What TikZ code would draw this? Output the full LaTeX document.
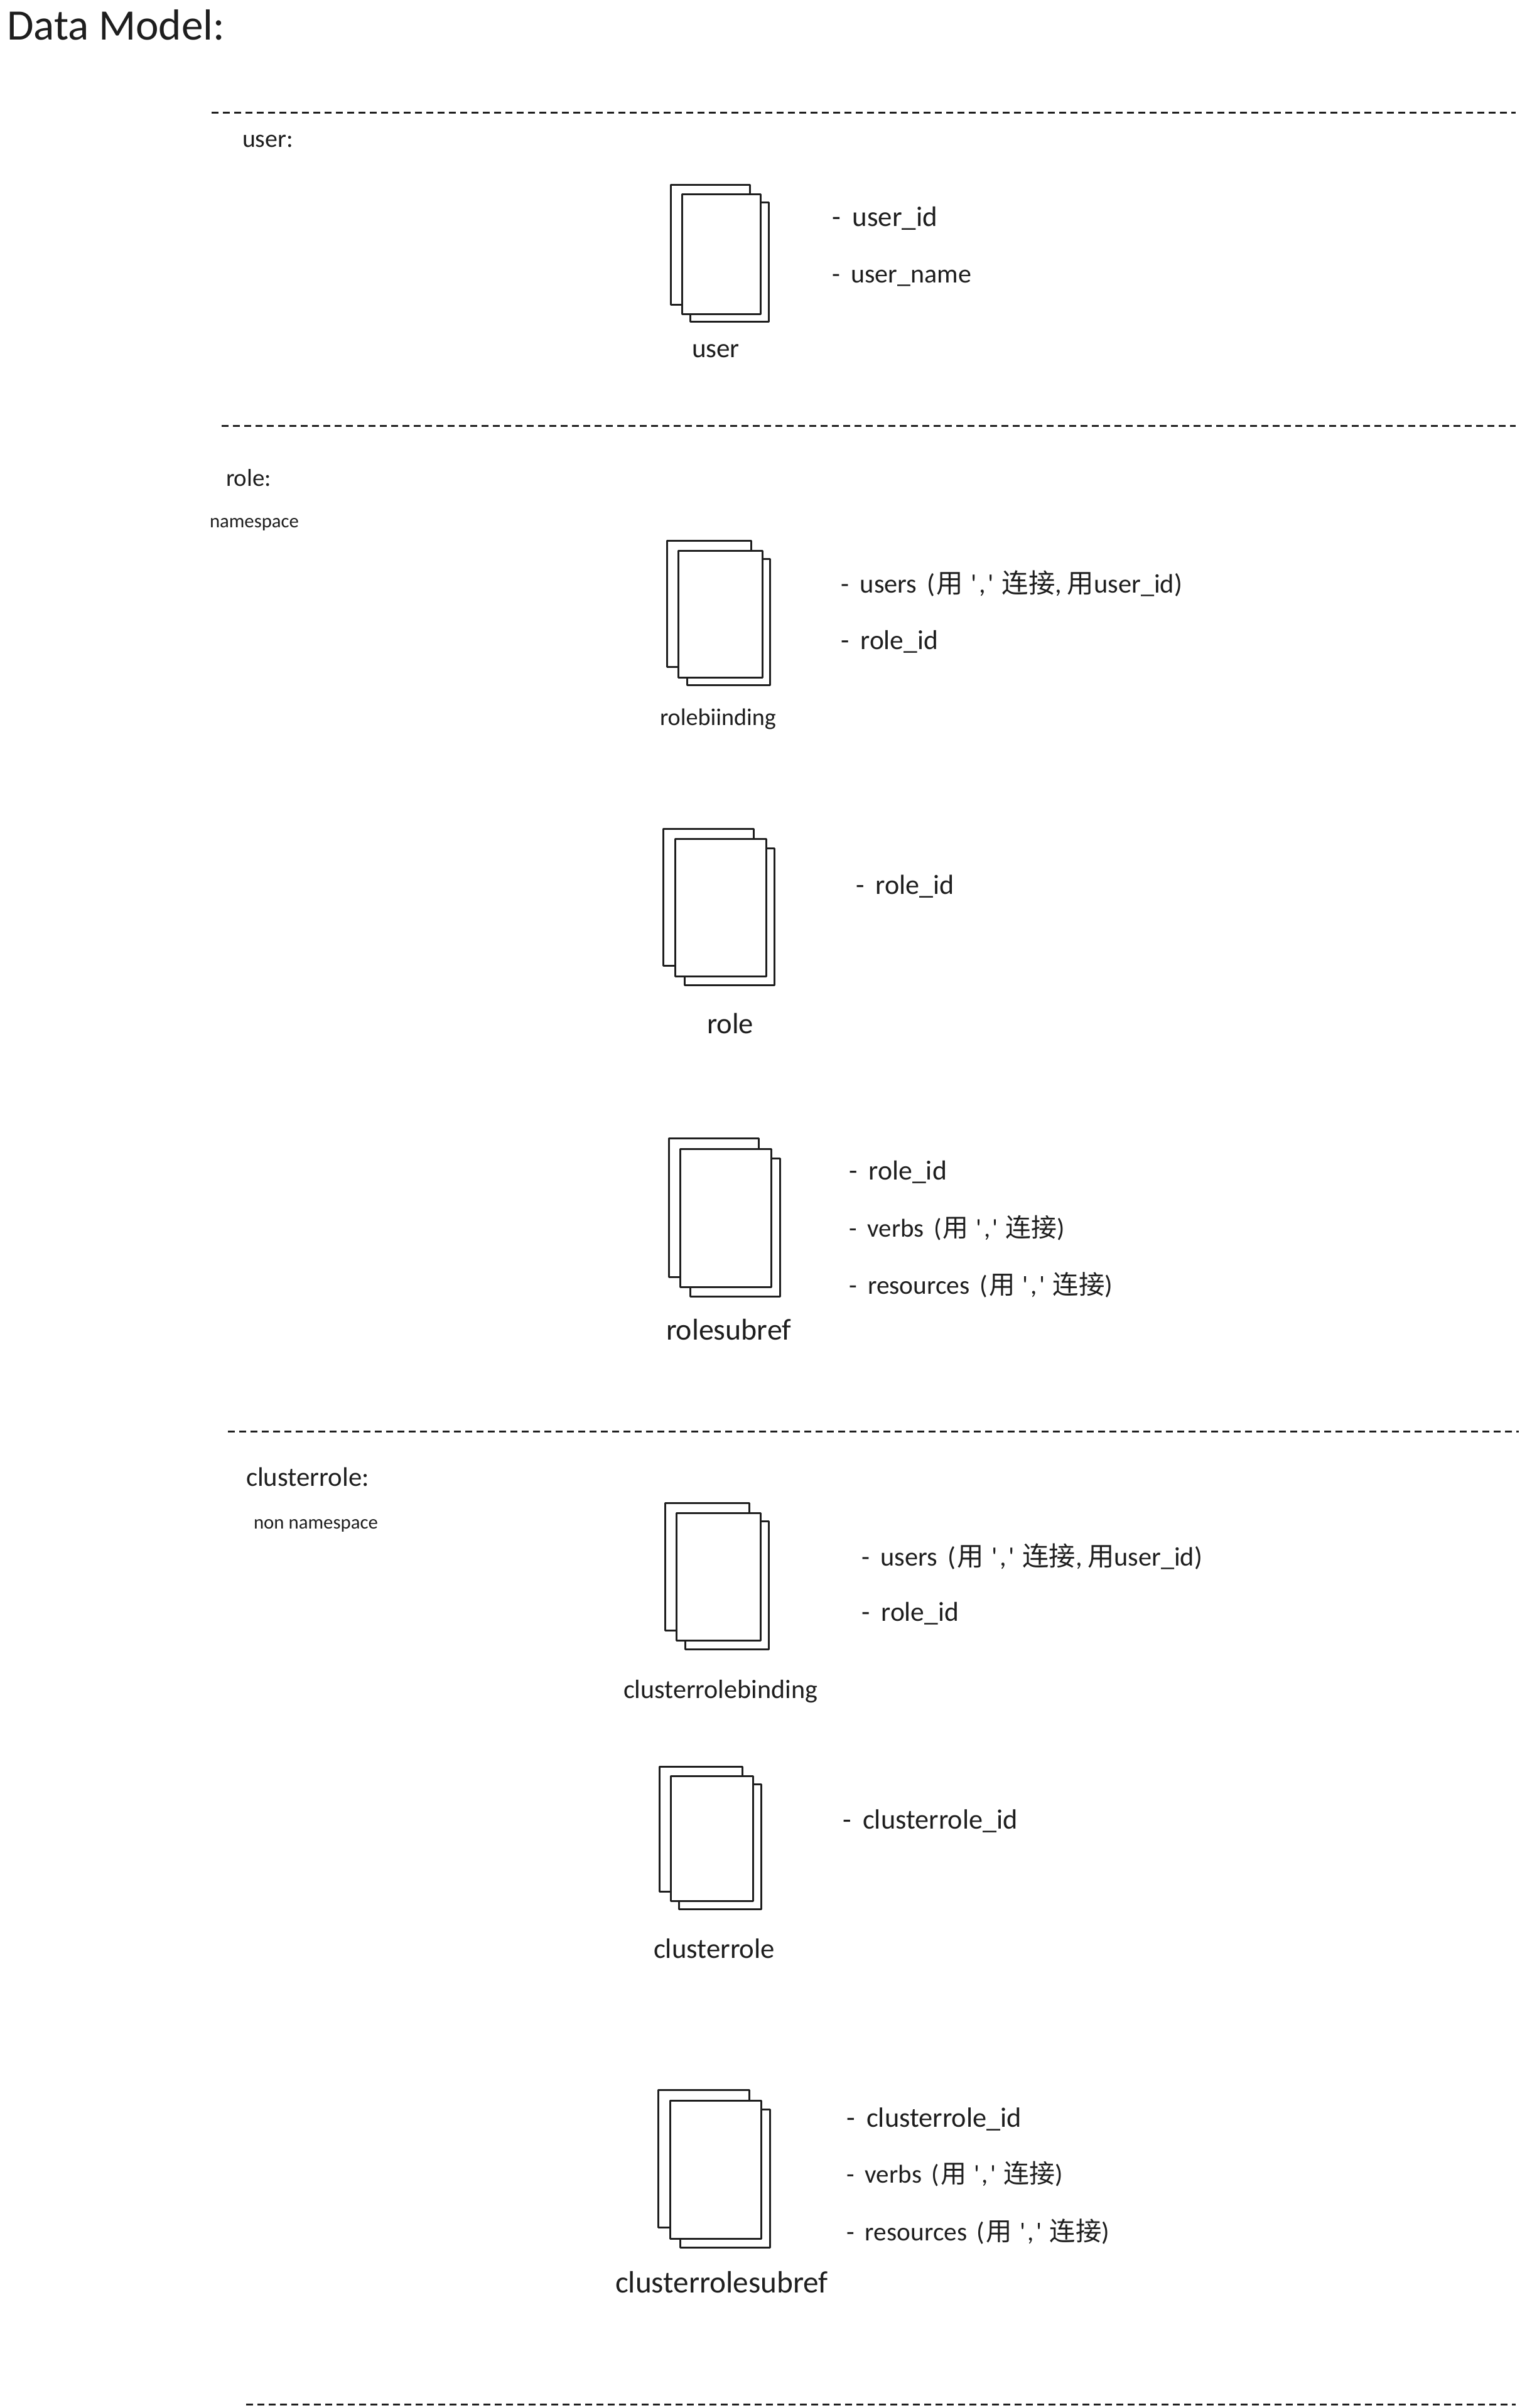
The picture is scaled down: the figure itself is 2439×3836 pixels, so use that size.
\documentclass[tikz,border=0pt]{standalone}
\usepackage{graphicx}
\usepackage{fontspec}
\setmainfont{Carlito}
\newfontfamily\cjk{Noto Sans CJK SC}
\newcommand{\cn}[1]{{\cjk #1}}
\newcommand{\qq}{\hspace{.3em}\textquotesingle\hspace{.08em},\hspace{.08em}\textquotesingle\hspace{.3em}}
\newcommand{\dsh}{-\hspace{.42em}}
\newcommand{\opn}{\hspace{.38em}(\hspace{.05em}}
\tikzset{
  txt/.style={anchor=base west,inner sep=0pt,outer sep=0pt,text=ink,font=\fontsize{40}{48}\selectfont},
  sheet/.style={draw=ink,fill=white,line width=3pt,line join=round},
  sep/.style={draw=ink,line width=3pt,dash pattern=on 10.5pt off 7.5pt}
}
\definecolor{ink}{HTML}{1E1E1E}
% name, x, width, baseline, text
\newcommand{\lbl}[5]{\node[txt] (#1) at (#2,#4) {\resizebox{#3pt}{!}{#5}};}
\newcommand{\stack}[3]{%
  \draw[sheet] #1; \draw[sheet] #2; \draw[sheet] #3;}
\begin{document}
\begin{tikzpicture}[x=1pt,y=-1pt]
\useasboundingbox (0,0) rectangle (2439,3836);
\fill[white] (0,0) rectangle (2439,3836);
% separators
\coordinate (a0) at (337,179); \coordinate (a1) at (2414,179);
\coordinate (b0) at (353,678); \coordinate (b1) at (2414,678);
\coordinate (c0) at (363,2280); \coordinate (c1) at (2419,2280);
\coordinate (d0) at (392,3830); \coordinate (d1) at (2414,3830);
\draw[sep] (a0) -- (a1);
\draw[sep] (b0) -- (b1);
\draw[sep] (c0) -- (c1);
\draw[sep] (d0) -- (d1);
% stacks
\stack{(1068,294) rectangle (1194,485)}{(1099,322) rectangle (1224,512)}{(1086,309) rectangle (1211,500)}
\stack{(1062,861) rectangle (1196,1062)}{(1094,890) rectangle (1226,1091)}{(1080,877) rectangle (1214,1079)}
\stack{(1056,1320) rectangle (1200,1538)}{(1090,1351) rectangle (1233,1569)}{(1075,1336) rectangle (1220,1555)}
\stack{(1065,1813) rectangle (1208,2034)}{(1099,1845) rectangle (1242,2065)}{(1083,1830) rectangle (1228,2050)}
\stack{(1059,2394) rectangle (1193,2597)}{(1091,2423) rectangle (1224,2627)}{(1077,2410) rectangle (1211,2613)}
\stack{(1050,2814) rectangle (1182,3013)}{(1081,2842) rectangle (1212,3041)}{(1068,2829) rectangle (1199,3028)}
\stack{(1048,3329) rectangle (1193,3548)}{(1083,3360) rectangle (1226,3580)}{(1067,3346) rectangle (1212,3566)}
% text
\lbl{title}{11}{347}{63}{Data Model:}
\lbl{huser}{386}{81}{234}{user:}
\lbl{uid}{1325}{168}{360}{\dsh user\_id}
\lbl{uname}{1325}{222}{450}{\dsh user\_name}
\lbl{user}{1102}{76}{569}{user}
\lbl{hrole}{360}{72}{774}{role:}
\lbl{ns}{334}{142}{840}{namespace}
\lbl{rbusers}{1339}{544}{944}{\dsh users\opn\cn{用}\qq\cn{连接},\hspace{.2em}\cn{用}user\_id)}
\lbl{rbrole}{1339}{155}{1034}{\dsh role\_id}
\lbl{rb}{1051}{185}{1155}{rolebiinding}
\lbl{rrole}{1363}{157}{1424}{\dsh role\_id}
\lbl{role}{1126}{74}{1646}{role}
\lbl{rsrole}{1352}{156}{1879}{\dsh role\_id}
\lbl{rsverbs}{1352}{344}{1970}{\dsh verbs\opn\cn{用}\qq\cn{连接})}
\lbl{rsres}{1352}{420}{2061}{\dsh resources\opn\cn{用}\qq\cn{连接})}
\lbl{rs}{1061}{199}{2134}{rolesubref}
\lbl{hcr}{392}{196}{2367}{clusterrole:}
\lbl{nns}{404}{198}{2435}{non namespace}
\lbl{crbusers}{1372}{543}{2494}{\dsh users\opn\cn{用}\qq\cn{连接},\hspace{.2em}\cn{用}user\_id)}
\lbl{crbrole}{1372}{155}{2582}{\dsh role\_id}
\lbl{crb}{993}{309}{2705}{clusterrolebinding}
\lbl{crid}{1342}{279}{2913}{\dsh clusterrole\_id}
\lbl{cr}{1041}{193}{3119}{clusterrole}
\lbl{crsid}{1348}{279}{3388}{\dsh clusterrole\_id}
\lbl{crsverbs}{1348}{345}{3477}{\dsh verbs\opn\cn{用}\qq\cn{连接})}
\lbl{crsres}{1348}{419}{3569}{\dsh resources\opn\cn{用}\qq\cn{连接})}
\lbl{crs}{980}{339}{3652}{clusterrolesubref}
\end{tikzpicture}
\end{document}
